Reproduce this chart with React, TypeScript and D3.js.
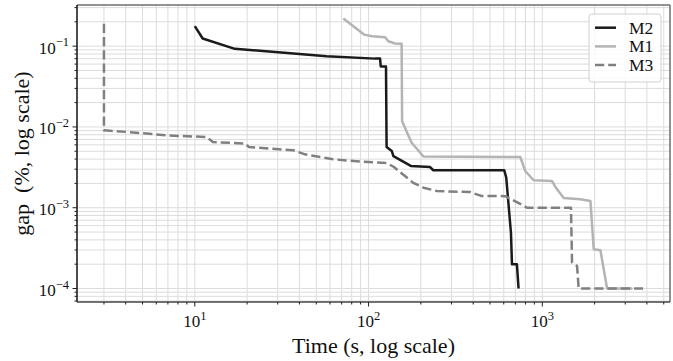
import { useEffect, useRef } from 'react';
import * as d3 from 'd3';

// ==========================================
// DATA
// ==========================================
const seriesNames = ['M2', 'M1', 'M3'];

const m2Time = [10, 11.1, 17, 30.2, 57.4, 109, 116.5, 117.5, 126, 127, 136, 139, 175, 226, 236, 604, 620, 660, 669, 714, 730];
const m2Gap = [0.177, 0.1245, 0.0926, 0.0843, 0.0752, 0.0701, 0.0701, 0.0561, 0.0561, 0.00565, 0.00504, 0.00436, 0.00329, 0.00319, 0.00291, 0.00291, 0.00236, 0.00049, 0.0002, 0.0002, 0.0001];

const m1Time = [71.6, 94.2, 105, 124.5, 130, 142, 155, 156, 169, 177, 207, 747, 798, 891, 1138, 1204, 1328, 1656, 1892, 1977, 2160, 2360, 3300];
const m1Gap = [0.22, 0.139, 0.133, 0.129, 0.115, 0.108, 0.107, 0.0118, 0.00794, 0.00638, 0.0043, 0.00424, 0.00285, 0.00219, 0.00214, 0.00174, 0.00132, 0.00127, 0.00121, 0.000307, 0.000298, 0.0001, 0.0001];

const m3Time = [3.0, 3.0, 4.61, 6.98, 11.7, 12.7, 19.4, 20.5, 36.9, 43.1, 62.7, 89.3, 127, 140, 181, 207, 247, 385, 445, 612, 727, 817, 1462, 1483, 1585, 1619, 3800];
const m3Gap = [0.189, 0.0091, 0.0085, 0.00783, 0.00751, 0.0065, 0.00624, 0.00565, 0.00514, 0.00458, 0.00398, 0.00372, 0.00358, 0.00319, 0.00203, 0.00177, 0.00161, 0.00156, 0.0014, 0.00139, 0.00115, 0.001, 0.001, 0.00021, 0.00019, 0.0001, 0.0001];

const xTitle = 'Time (s, log scale)';
const yTitle = 'gap\u00a0 (%, log scale)';

type Pt = [number, number];

const zip = (a: number[], b: number[]): Pt[] => a.map((v, i) => [v, b[i]]);

const App = () => {
  const svgRef = useRef<SVGSVGElement | null>(null);

  useEffect(() => {
    const root = d3.select(svgRef.current);
    root.selectAll('*').remove();

    const width = 673;
    const height = 361;
    const margin = { top: 5, right: 3, bottom: 59, left: 77 };
    const font = '"Liberation Serif", "Times New Roman", serif';

    const series = [
      { name: seriesNames[0], pts: zip(m2Time, m2Gap), color: '#1a1a1a', dash: null as string | null },
      { name: seriesNames[1], pts: zip(m1Time, m1Gap), color: '#b4b4b4', dash: null as string | null },
      { name: seriesNames[2], pts: zip(m3Time, m3Gap), color: '#808080', dash: '9.25,4' },
    ];

    // log extents with 5% padding like matplotlib
    const all = series.flatMap((s) => s.pts);
    const pad = (lo: number, hi: number): [number, number] => {
      const a = Math.log10(lo);
      const b = Math.log10(hi);
      const p = (b - a) * 0.05;
      return [Math.pow(10, a - p), Math.pow(10, b + p)];
    };
    const xDom = pad(d3.min(all, (d) => d[0])!, d3.max(all, (d) => d[0])!);
    const yDom = pad(d3.min(all, (d) => d[1])!, d3.max(all, (d) => d[1])!);

    const x = d3.scaleLog().domain(xDom).range([margin.left, width - margin.right]);
    const y = d3.scaleLog().domain(yDom).range([height - margin.bottom, margin.top]);

    const logTicks = (dom: [number, number]) => {
      const out: { v: number; major: boolean; exp: number }[] = [];
      for (let e = Math.floor(Math.log10(dom[0])); e <= Math.ceil(Math.log10(dom[1])); e++) {
        for (let k = 1; k <= 9; k++) {
          const v = k * Math.pow(10, e);
          if (v >= dom[0] && v <= dom[1]) out.push({ v, major: k === 1, exp: e });
        }
      }
      return out;
    };
    const xTicks = logTicks(xDom);
    const yTicks = logTicks(yDom);

    const svg = root.attr('width', width).attr('height', height);
    svg.append('rect').attr('width', width).attr('height', height).attr('fill', '#fff');

    const x0 = margin.left;
    const x1 = width - margin.right;
    const y0 = margin.top;
    const y1 = height - margin.bottom;

    // ==========================================
    // GRID
    // ==========================================
    const grid = svg.append('g').attr('stroke', '#dcdcdc').attr('stroke-width', 1);
    xTicks.forEach((t) => {
      grid.append('line').attr('x1', x(t.v)).attr('x2', x(t.v)).attr('y1', y0).attr('y2', y1);
    });
    yTicks.forEach((t) => {
      grid.append('line').attr('x1', x0).attr('x2', x1).attr('y1', y(t.v)).attr('y2', y(t.v));
    });

    // ==========================================
    // LINES
    // ==========================================
    const line = d3
      .line<Pt>()
      .x((d) => x(d[0]))
      .y((d) => y(d[1]));

    series.forEach((s) => {
      const p = svg
        .append('path')
        .attr('d', line(s.pts))
        .attr('fill', 'none')
        .attr('stroke', s.color)
        .attr('stroke-width', 2.5)
        .attr('stroke-linejoin', 'round');
      if (s.dash) p.attr('stroke-dasharray', s.dash);
    });

    // ==========================================
    // FRAME + TICKS
    // ==========================================
    svg.append('line').attr('x1', x0).attr('x2', x1).attr('y1', y0).attr('y2', y0).attr('stroke', '#6e6e6e').attr('stroke-width', 1.5);
    svg.append('line').attr('x1', x1).attr('x2', x1).attr('y1', y0).attr('y2', y1).attr('stroke', '#6e6e6e').attr('stroke-width', 1.5);
    svg.append('line').attr('x1', x0).attr('x2', x0).attr('y1', y0).attr('y2', y1).attr('stroke', '#111').attr('stroke-width', 1.5);
    svg.append('line').attr('x1', x0).attr('x2', x1).attr('y1', y1).attr('y2', y1).attr('stroke', '#444').attr('stroke-width', 1.5);

    const ticks = svg.append('g').attr('stroke', '#222').attr('stroke-width', 1);
    xTicks.forEach((t) => {
      ticks.append('line').attr('x1', x(t.v)).attr('x2', x(t.v)).attr('y1', y1).attr('y2', y1 + (t.major ? 4.5 : 2.5));
    });
    yTicks.forEach((t) => {
      ticks.append('line').attr('x1', x0).attr('x2', x0 - (t.major ? 4.5 : 2.5)).attr('y1', y(t.v)).attr('y2', y(t.v));
    });

    const expLabel = (g: d3.Selection<SVGTextElement, unknown, null, undefined>, exp: number) => {
      g.append('tspan').text('10');
      g.append('tspan')
        .attr('dy', -7.5)
        .attr('font-size', 12.5)
        .text(exp < 0 ? `\u2212${-exp}` : `${exp}`);
    };

    xTicks.filter((t) => t.major).forEach((t) => {
      const tx = svg
        .append('text')
        .attr('x', x(t.v))
        .attr('y', y1 + 25)
        .attr('text-anchor', 'middle')
        .attr('font-family', font)
        .attr('font-size', 17)
        .attr('fill', '#111');
      expLabel(tx as any, t.exp);
    });

    yTicks.filter((t) => t.major).forEach((t) => {
      const ty = svg
        .append('text')
        .attr('x', x0 - 8)
        .attr('y', y(t.v) + 7.5)
        .attr('text-anchor', 'end')
        .attr('font-family', font)
        .attr('font-size', 17)
        .attr('fill', '#111');
      expLabel(ty as any, t.exp);
    });

    // ==========================================
    // AXIS TITLES
    // ==========================================
    svg.append('text')
      .attr('x', (x0 + x1) / 2)
      .attr('y', 353)
      .attr('text-anchor', 'middle')
      .attr('font-family', font)
      .attr('font-size', 22)
      .attr('fill', '#111')
      .text(xTitle);

    svg.append('text')
      .attr('transform', `translate(29, ${(y0 + y1) / 2}) rotate(-90)`)
      .attr('text-anchor', 'middle')
      .attr('font-family', font)
      .attr('font-size', 22)
      .attr('fill', '#111')
      .text(yTitle);

    // ==========================================
    // LEGEND
    // ==========================================
    const lg = svg.append('g').attr('transform', 'translate(589, 14)');
    lg.append('rect')
      .attr('width', 72)
      .attr('height', 68)
      .attr('rx', 3)
      .attr('fill', '#fff')
      .attr('fill-opacity', 0.85)
      .attr('stroke', '#d0d0d0')
      .attr('stroke-width', 1);
    series.forEach((s, i) => {
      const cy = 13.7 + i * 18.7;
      const l = lg.append('line')
        .attr('x1', 6)
        .attr('x2', 27)
        .attr('y1', cy)
        .attr('y2', cy)
        .attr('stroke', s.color)
        .attr('stroke-width', 2.5);
      if (s.dash) l.attr('stroke-dasharray', s.dash);
      lg.append('text')
        .attr('x', 40)
        .attr('y', cy + 6)
        .attr('font-family', font)
        .attr('font-size', 17.5)
        .attr('fill', '#111')
        .text(s.name);
    });
  }, []);

  return (
    <div style={{ position: 'absolute', left: 0, top: 0 }}>
      <svg ref={svgRef}></svg>
    </div>
  );
};

export default App;
